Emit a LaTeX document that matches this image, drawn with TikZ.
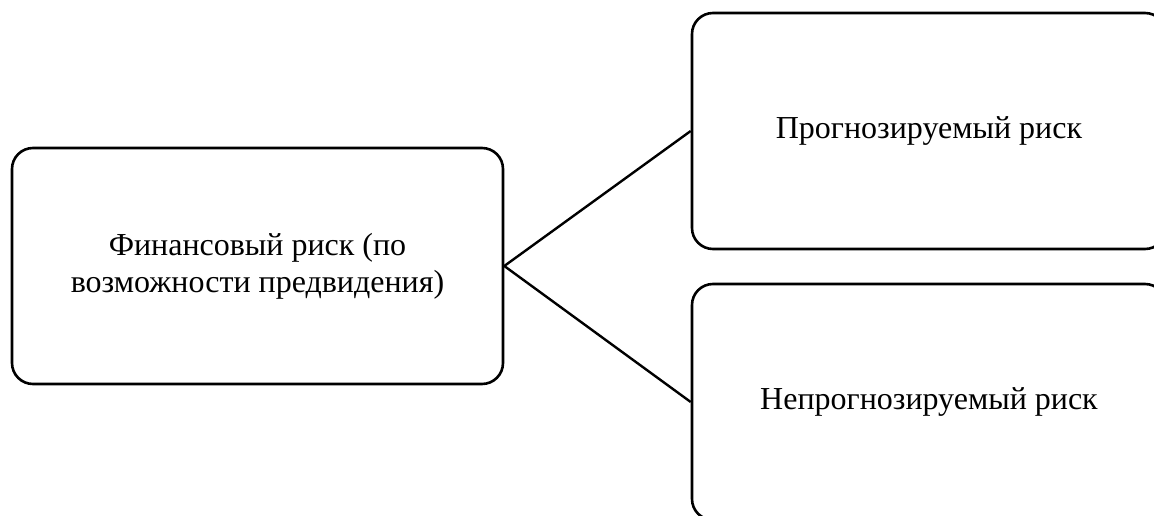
\documentclass[tikz,border=0pt]{standalone}
\usepackage{fontspec}
\setmainfont{Liberation Serif}
\begin{document}
\begin{tikzpicture}[x=1pt,y=-1pt,
  riskbox/.style={draw, line width=2.6pt, rounded corners=21pt, align=center,
    minimum width=491pt, minimum height=236pt, inner sep=0pt,
    font=\fontsize{32}{37}\selectfont},
  link/.style={line width=2.4pt}]
\useasboundingbox (0,0) rectangle (1154,516);
\clip (0,0) rectangle (1154,516);
\node[riskbox] (root) at (257.5,266) {Финансовый риск (по\\возможности предвидения)};
\node[riskbox, minimum width=474pt] (fore) at (929,131) {Прогнозируемый риск};
\node[riskbox, minimum width=474pt] (unfore) at (929,402) {Непрогнозируемый риск};
\draw[link] (root.east) -- (fore.west);
\draw[link] (root.east) -- (unfore.west);
\end{tikzpicture}
\end{document}
